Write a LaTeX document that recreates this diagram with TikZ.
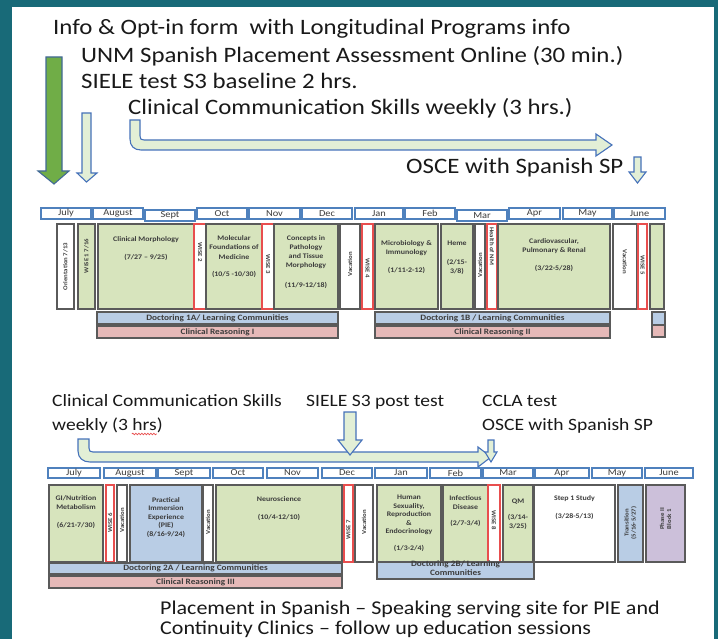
\documentclass[tikz,border=0pt]{standalone}
\usepackage{fontspec}
\setmainfont{Carlito}[FakeStretch=1.13]
\usetikzlibrary{calc,decorations.pathmorphing}
\definecolor{bgteal}{RGB}{24,106,120}
\definecolor{gfill}{RGB}{215,228,189}
\definecolor{bfill}{RGB}{185,205,229}
\definecolor{pfill}{RGB}{230,185,184}
\definecolor{ufill}{RGB}{204,192,218}
\definecolor{edgegray}{RGB}{90,90,90}
\definecolor{redb}{RGB}{232,78,78}
\definecolor{monblue}{RGB}{79,129,189}
\definecolor{arrfill}{RGB}{226,239,214}
\definecolor{arredge}{RGB}{70,114,186}
\definecolor{bigfill}{RGB}{112,173,71}
\definecolor{bigedge}{RGB}{65,105,150}
\definecolor{txtdark}{RGB}{25,25,25}
\definecolor{txtgray}{RGB}{60,60,60}
\newcommand\blk[7]{%
  \node[#6, anchor=north west, inner sep=0pt, outer sep=0pt,
        minimum width={(#4-#2)*1pt}, minimum height={(#5-#3)*1pt}] (#1) at (#2,#3) {#7};}
\begin{document}
\begin{tikzpicture}[x=1pt,y=-1pt,
  mon/.style={draw=monblue, line width=1.1pt, fill=white, font=\fontsize{9.2}{10}\selectfont, text=txtgray},
  gbox/.style={draw=edgegray, line width=1.1pt, fill=gfill},
  wbox/.style={draw=edgegray, line width=1.1pt, fill=white},
  rbox/.style={draw=redb, line width=1.1pt, fill=white},
  bbox/.style={draw=edgegray, line width=1.1pt, fill=bfill},
  pbox/.style={draw=edgegray, line width=1.1pt, fill=pfill},
  ubox/.style={draw=edgegray, line width=1.1pt, fill=ufill},
  btxt/.style={font=\fontsize{7}{9}\selectfont\bfseries, text=txtgray, align=center, inner sep=0pt, anchor=north},
  vtxt/.style={font=\fontsize{6}{7}\selectfont\bfseries, text=txtgray, align=center, inner sep=0pt},
  bartxt/.style={font=\fontsize{8.2}{9}\selectfont\bfseries, text=txtgray, inner sep=0pt},
  bigtxt/.style={font=\fontsize{22}{26}\selectfont, text=txtdark, inner sep=0pt, anchor=base west},
  midtxt/.style={font=\fontsize{17.3}{20}\selectfont, text=txtdark, inner sep=0pt, anchor=base west},
  bottxt/.style={font=\fontsize{19.5}{22}\selectfont, text=txtdark, inner sep=0pt, anchor=base west},
  shparrow/.style={draw=arredge, line width=1.1pt, fill=arrfill, line join=miter},
  bigarrow/.style={draw=bigedge, line width=1.1pt, fill=bigfill}
]
\useasboundingbox (0,0) rectangle (718,639);
\fill[bgteal] (0,0) rectangle (718,639);
\fill[white] (12,7) rectangle (714,639);

% ---------- top texts
\node[bigtxt] (t1) at (53,35) {Info \& Opt-in form\ \ with Longitudinal Programs info};
\node[bigtxt] (t2) at (81,63) {UNM Spanish Placement Assessment Online (30 min.)};
\node[bigtxt] (t3) at (81,89) {SIELE test S3 baseline 2 hrs.};
\node[bigtxt] (t4) at (128,115) {Clinical Communication Skills weekly (3 hrs.)};
\node[bigtxt] (t5) at (406,174) {OSCE with Spanish SP};

% ---------- top arrows
\draw[bigarrow] (46,57) -- (62,57) -- (62,171) -- (69,171) -- (54,184) -- (38,171) -- (46,171) -- cycle;
\draw[shparrow] (82,113) -- (91,113) -- (91,173) -- (97,173) -- (86.5,182) -- (77,173) -- (82,173) -- cycle;
\draw[shparrow] (130,120) -- (140,120) -- (140,136) .. controls (140,139) and (141,140) .. (144,140)
  -- (596,140) -- (596,134) -- (612,145) -- (596,156) -- (596,150) -- (141,150)
  .. controls (134,150) and (130,146) .. (130,139) -- cycle;
\draw[shparrow] (634,157) -- (641,157) -- (641,172) -- (646,172) -- (637.5,183) -- (629,172) -- (634,172) -- cycle;

% ---------- timeline 1 months
\blk{ajul}{41}{208}{91}{219}{mon}{July}
\blk{aaug}{93}{208}{143}{219}{mon}{August}
\blk{asep}{145}{210}{195}{221}{mon}{Sept}
\blk{aoct}{197}{208}{247}{219}{mon}{Oct}
\blk{anov}{249}{208}{300}{219}{mon}{Nov}
\blk{adec}{302}{208}{352}{219}{mon}{Dec}
\blk{ajan}{355}{208}{403}{219}{mon}{Jan}
\blk{afeb}{405}{208}{455}{219}{mon}{Feb}
\blk{amar}{457}{210}{507}{221}{mon}{Mar}
\blk{aapr}{509}{208}{560}{219}{mon}{Apr}
\blk{amay}{563}{208}{612}{219}{mon}{May}
\blk{ajun}{614}{208}{665}{219}{mon}{June}

% ---------- timeline 1 blocks
\blk{aori}{57}{224}{74}{309}{wbox}{}
\node[vtxt, rotate=90] (aoriT) at (aori.center) {Orientation 7/13};
\blk{aw1}{78}{224}{95}{309}{gbox}{}
\node[vtxt, rotate=90] (aw1T) at (86.5,256) {WISE 1 7/16};
\blk{acm}{98}{224}{194}{309}{gbox}{}
\node[btxt] (acmT) at (146,236) {Clinical Morphology\\[9pt](7/27 – 9/25)};
\blk{aw2}{194}{224}{206}{309}{rbox}{}
\node[vtxt, rotate=-90] (aw2T) at (200,252) {WISE 2};
\blk{amf}{206}{224}{262}{309}{gbox}{}
\node[btxt, font=\fontsize{7}{9.5}\selectfont\bfseries] (amfT) at (234,235) {Molecular\\Foundations of\\Medicine\\[8pt](10/5 -10/30)};
\blk{aw3}{262}{224}{274}{309}{rbox}{}
\node[vtxt, rotate=-90] (aw3T) at (268,264) {WISE 3};
\blk{acp}{274}{224}{338}{309}{gbox}{}
\node[btxt] (acpT) at (306,235) {Concepts in\\Pathology\\and Tissue\\Morphology\\[11pt](11/9-12/18)};
\blk{av1}{340}{224}{360}{309}{wbox}{}
\node[vtxt, rotate=90] (av1T) at (350,264) {Vacation};
\blk{aw4}{362}{224}{373}{309}{rbox}{}
\node[vtxt, rotate=-90] (aw4T) at (367.5,268) {WISE 4};
\blk{ami}{375}{224}{438}{309}{gbox}{}
\node[btxt] (amiT) at (406.5,240) {Microbiology \&\\Immunology\\[9pt](1/11-2-12)};
\blk{ahe}{441}{224}{473}{309}{gbox}{}
\node[btxt] (aheT) at (457,241) {Heme\\[10pt](2/15-\\3/8)};
\blk{av2}{475}{224}{485}{309}{wbox}{}
\node[vtxt, rotate=90] (av2T) at (480,265) {Vacation};
\blk{anm}{487}{224}{497}{309}{rbox}{}
\node[vtxt, rotate=-90] (anmT) at (492,246) {Health of NM};
\blk{acv}{498}{224}{610}{309}{gbox}{}
\node[btxt] (acvT) at (554,238) {Cardiovascular,\\Pulmonary \& Renal\\[9pt](3/22-5/28)};
\blk{av3}{613}{224}{637}{309}{wbox}{}
\node[vtxt, rotate=-90] (av3T) at (625,262) {Vacation};
\blk{aw5}{638}{224}{647}{309}{rbox}{}
\node[vtxt, rotate=-90] (aw5T) at (642.5,265) {WISE 5};
\blk{ag}{650}{224}{664}{309}{gbox}{}

\blk{ad1a}{97}{312}{338}{324}{bbox}{}
\node[bartxt] (ad1aT) at (ad1a.center) {Doctoring 1A/ Learning Communities};
\blk{acr1}{97}{326}{338}{338}{pbox}{}
\node[bartxt] (acr1T) at (acr1.center) {Clinical Reasoning I};
\blk{ad1b}{375}{312}{610}{324}{bbox}{}
\node[bartxt] (ad1bT) at (ad1b.center) {Doctoring 1B / Learning Communities};
\blk{acr2}{375}{326}{610}{338}{pbox}{}
\node[bartxt] (acr2T) at (acr2.center) {Clinical Reasoning II};
\blk{asb}{652}{312}{665}{325}{bbox}{}
\blk{asp}{652}{325}{665}{337}{pbox}{}

% ---------- middle texts
\node[midtxt] (m1) at (52,406) {Clinical Communication Skills};
\node[midtxt] (m2) at (52,430) {weekly (3 hrs)};
\node[midtxt] (m3) at (306,406) {SIELE S3 post test};
\node[midtxt] (m4) at (482,406) {CCLA test};
\node[midtxt] (m5) at (482,430) {OSCE with Spanish SP};
\draw[redb, line width=0.7pt, decorate, decoration={snake, amplitude=0.8pt, segment length=3pt}] ($(m2.base east)+(-31,4)$) -- ($(m2.base east)+(-6,4)$);

% ---------- middle arrows
\draw[shparrow] (78,439) -- (89,439) -- (89,448) .. controls (89,451) and (90,452) .. (93,452)
  -- (478,452) -- (478,447) -- (491,457) -- (478,467) -- (478,462) -- (90,462)
  .. controls (83,462) and (78,458) .. (78,451) -- cycle;
\draw[shparrow] (344,412) -- (356,412) -- (356,440) -- (362,440) -- (350,455) -- (338,440) -- (344,440) -- cycle;
\draw[shparrow] (488,440) -- (494,440) -- (494,452) -- (497,452) -- (491,462) -- (485,452) -- (488,452) -- cycle;

% ---------- timeline 2 months
\blk{bjul}{48}{468}{100}{478}{mon}{July}
\blk{baug}{104}{468}{156}{478}{mon}{August}
\blk{bsep}{158}{468}{210}{478}{mon}{Sept}
\blk{boct}{213}{468}{263}{478}{mon}{Oct}
\blk{bnov}{267}{468}{318}{478}{mon}{Nov}
\blk{bdec}{322}{468}{372}{478}{mon}{Dec}
\blk{bjan}{375}{468}{427}{478}{mon}{Jan}
\blk{bfeb}{430}{468}{481}{478}{mon}{Feb}
\blk{bmar}{483}{468}{533}{478}{mon}{Mar}
\blk{bapr}{535}{468}{589}{478}{mon}{Apr}
\blk{bmay}{592}{468}{642}{478}{mon}{May}
\blk{bjun}{645}{468}{693}{478}{mon}{June}

% ---------- timeline 2 blocks
\blk{bgi}{49}{485}{103}{562}{gbox}{}
\node[btxt] (bgiT) at (76,495) {GI/Nutrition\\Metabolism\\[9pt](6/21-7/30)};
\blk{bw6}{106}{485}{114}{562}{rbox}{}
\node[vtxt, rotate=90] (bw6T) at (110,523) {WISE 6};
\blk{bv1}{117}{485}{127}{562}{wbox}{}
\node[vtxt, rotate=90] (bv1T) at (122,520) {Vacation};
\blk{bpie}{130}{485}{202}{562}{bbox}{}
\node[btxt, font=\fontsize{7}{8.5}\selectfont\bfseries] (bpieT) at (166,497) {Practical\\Immersion\\Experience\\(PIE)\\(8/16-9/24)};
\blk{bv2}{203}{485}{213}{562}{wbox}{}
\node[vtxt, rotate=90] (bv2T) at (208,522) {Vacation};
\blk{bneu}{216}{485}{342}{562}{gbox}{}
\node[btxt] (bneuT) at (279,496) {Neuroscience\\[9pt](10/4-12/10)};
\blk{bw7}{344}{485}{353}{562}{rbox}{}
\node[vtxt, rotate=90] (bw7T) at (348.5,530) {WISE 7};
\blk{bv3}{355}{485}{373}{562}{wbox}{}
\node[vtxt, rotate=90] (bv3T) at (364,522) {Vacation};
\blk{bhs}{377}{485}{441}{562}{gbox}{}
\node[btxt, font=\fontsize{7}{8.5}\selectfont\bfseries] (bhsT) at (409,495) {Human\\Sexuality,\\Reproduction\\\&\\Endocrinology\\[8pt](1/3-2/4)};
\blk{bid}{443}{485}{488}{562}{gbox}{}
\node[btxt] (bidT) at (465.5,495) {Infectious\\Disease\\[7pt](2/7-3/4)};
\blk{bw8}{488}{485}{500}{562}{rbox}{}
\node[vtxt, rotate=-90] (bw8T) at (494,520) {WISE 8};
\blk{bqm}{503}{485}{533}{562}{gbox}{}
\node[btxt] (bqmT) at (518,499) {QM\\[7pt](3/14-\\3/25)};
\blk{bst}{534}{485}{615}{562}{wbox}{}
\node[btxt] (bstT) at (574.5,495) {Step 1 Study\\[9pt](3/28-5/13)};
\blk{btr}{618}{485}{643}{562}{bbox}{}
\node[vtxt, rotate=90] (btrT) at (630.5,523) {Transition\\(5/16-5/27)};
\blk{bph}{646}{485}{685}{562}{ubox}{}
\node[vtxt, rotate=90] (bphT) at (665.5,519) {Phase II\\Block 1};

\blk{bd2a}{49}{563}{342}{574}{bbox}{}
\node[bartxt] (bd2aT) at (bd2a.center) {Doctoring 2A / Learning Communities};
\blk{bcr3}{49}{576}{342}{588}{pbox}{}
\node[bartxt] (bcr3T) at (bcr3.center) {Clinical Reasoning III};
\blk{bd2b}{377}{562}{534}{579}{bbox}{}
\node[bartxt, align=center, font=\fontsize{8.2}{9}\selectfont\bfseries, anchor=north] (bd2bT) at (455.5,561) {Doctoring 2B/ Learning\\Communities};

% ---------- bottom text
\node[bottxt] (bt1) at (160,614) {Placement in Spanish – Speaking serving site for PIE and};
\node[bottxt] (bt2) at (160,634) {Continuity Clinics – follow up education sessions};
\end{tikzpicture}
\end{document}
